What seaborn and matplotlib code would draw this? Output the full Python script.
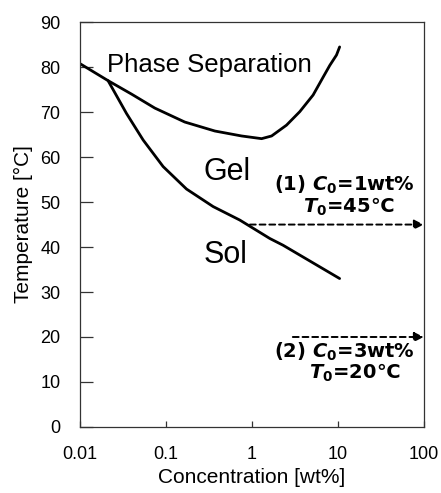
import numpy as np
import pandas as pd
import matplotlib
matplotlib.use("Agg")
import matplotlib.pyplot as plt
import seaborn as sns

# phase separation boundary (upper curve)
ps_conc = [0.01, 0.0213, 0.040, 0.0745, 0.166, 0.372, 0.76, 1.30, 1.70, 2.53, 3.61, 5.16, 6.76, 8.07, 9.66, 10.5]
ps_temp = [80.8, 77.0, 74.0, 70.9, 67.8, 65.8, 64.7, 64.1, 64.7, 67.1, 70.1, 73.8, 77.8, 80.4, 82.7, 84.5]

# sol-gel boundary (lower curve)
sg_conc = [0.0213, 0.0349, 0.0545, 0.093, 0.174, 0.355, 0.725, 1.62, 2.31, 10.5]
sg_temp = [77.0, 69.7, 63.8, 57.9, 52.9, 49.0, 46.0, 41.9, 40.4, 33.0]

# quench paths
path_start = [0.95, 3.0]
path_end = [100, 100]
path_temp = [45, 20]
line1_labels = [r"(1) $\mathbfit{C}_\mathbf{0}$=1wt%", r"(2) $\mathbfit{C}_\mathbf{0}$=3wt%"]
line2_labels = [r"$\mathbfit{T}_\mathbf{0}$=45℃", r"$\mathbfit{T}_\mathbf{0}$=20℃"]
line1_pos = [(78.5, 53.8), (78.5, 16.7)]
line2_pos = [(46, 48.9), (52.7, 12.0)]

sns.set_style("white")
plt.rcParams['font.family'] = ['Liberation Sans', 'DejaVu Sans']
plt.rcParams['mathtext.fontset'] = 'dejavusans'
plt.rcParams['text.color'] = 'black'
plt.rcParams['axes.labelcolor'] = 'black'
plt.rcParams['xtick.color'] = 'black'
plt.rcParams['ytick.color'] = 'black'

ps = pd.DataFrame({'conc': ps_conc, 'temp': ps_temp})
sg = pd.DataFrame({'conc': sg_conc, 'temp': sg_temp})

fig = plt.figure(figsize=(4.41, 4.93), dpi=100)
ax = fig.add_axes([0.181, 0.134, 0.780, 0.821])

sns.lineplot(data=ps, x='conc', y='temp', ax=ax, sort=False, estimator=None, color='black', lw=2.0)
sns.lineplot(data=sg, x='conc', y='temp', ax=ax, sort=False, estimator=None, color='black', lw=2.0)

ax.set_xscale('log')
ax.set_xlim(0.01, 100)
ax.set_ylim(0, 90)
ax.set_yticks(range(0, 91, 10))
ax.set_xticks([0.01, 0.1, 1, 10, 100])
ax.set_xticklabels(['0.01', '0.1', '1', '10', '100'])
ax.minorticks_off()

for s in ax.spines.values():
    s.set_color('#333333')
    s.set_linewidth(0.9)

ax.tick_params(axis='y', direction='in', length=9, width=0.9, pad=14, labelsize=13, left=True, right=False,
               color='#333333')
ax.tick_params(axis='x', direction='in', length=4, width=0.9, pad=14, labelsize=13, bottom=True, top=False,
               color='#333333')

ax.set_xlabel('Concentration [wt%]', fontsize=15, labelpad=3)
ax.set_ylabel('Temperature [°C]', fontsize=15, labelpad=5)

for x0, x1, t in zip(path_start, path_end, path_temp):
    ax.annotate('', xy=(x1, t), xytext=(x0, t),
                arrowprops=dict(arrowstyle='-|>', linestyle=(0, (3, 2)), lw=1.4,
                                color='black', mutation_scale=14, shrinkA=0, shrinkB=0),
                annotation_clip=False)

for (lx, ly), txt in zip(line1_pos, line1_labels):
    ax.text(lx, ly, txt, ha='right', va='center', fontsize=14, fontweight='bold', family='DejaVu Sans')
for (lx, ly), txt in zip(line2_pos, line2_labels):
    ax.text(lx, ly, txt, ha='right', va='center', fontsize=14, fontweight='bold', family='DejaVu Sans')

ax.text(0.0206, 80.4, 'Phase Separation', fontsize=18.5, va='center', ha='left')
ax.text(0.51, 56.7, 'Gel', fontsize=22, va='center', ha='center')
ax.text(0.5, 38.2, 'Sol', fontsize=22, va='center', ha='center')

fig.savefig('out.png', dpi=100)
